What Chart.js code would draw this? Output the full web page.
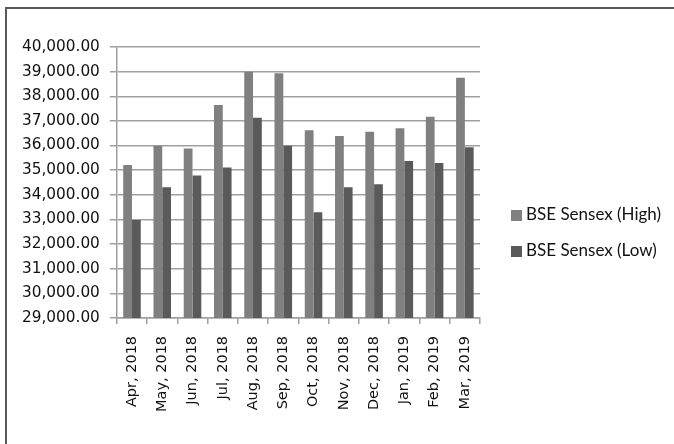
<!DOCTYPE html>
<html>
<head>
<meta charset="utf-8">
<script src="https://cdn.jsdelivr.net/npm/chart.js@4.4.1/dist/chart.umd.min.js"></script>
<style>
    html, body { margin: 0; padding: 0; background: #fff; }
    #wrap { position: relative; width: 674px; height: 444px; }
    #frame { position: absolute; left: 5px; top: 7px; right: 0; bottom: 0;
             border-top: 2px solid #5a5a5a; border-left: 2px solid #5a5a5a; pointer-events: none; }
    canvas { position: absolute; left: 0; top: 0; }
    .legend-item { position: absolute; left: 511px; height: 20px; line-height: 20px;
                   font-family: "Lato"; font-size: 17px; color: #111; white-space: nowrap; }
    .legend-item span { display: inline-block; width: 11px; height: 11px; margin-right: 4px; vertical-align: -1px; }
</style>
</head>
<body>
<div id="wrap">
    <canvas id="sensex-chart" width="674" height="444"></canvas>
    <div id="legend"></div>
    <div id="frame"></div>
</div>
<script>
const months = ["Apr, 2018", "May, 2018", "Jun, 2018", "Jul, 2018", "Aug, 2018", "Sep, 2018",
                "Oct, 2018", "Nov, 2018", "Dec, 2018", "Jan, 2019", "Feb, 2019", "Mar, 2019"];
const sensexHigh = [35213, 35994, 35877, 37645, 38990, 38934, 36617, 36389, 36555, 36701, 37172, 38749];
const sensexLow = [32973, 34303, 34785, 35107, 37129, 35986, 33292, 34303, 34426, 35376, 35287, 35927];
const seriesNames = ["BSE Sensex (High)", "BSE Sensex (Low)"];
const seriesColors = ["#808080", "#5a5a5a"];
const yMin = 29000;
const yMax = 40000;
const yStep = 1000;

function formatNumber(value) {
    return value.toLocaleString("en-US", { minimumFractionDigits: 2, maximumFractionDigits: 2 });
}

const gridColor = "#a0a0a0";

const ctx = document.getElementById("sensex-chart").getContext("2d");
const chart = new Chart(ctx, {
    type: "bar",
    data: {
        labels: months,
        datasets: [
            { label: seriesNames[0], data: sensexHigh, backgroundColor: seriesColors[0] },
            { label: seriesNames[1], data: sensexLow, backgroundColor: seriesColors[1] }
        ]
    },
    options: {
        responsive: false,
        animation: false,
        layout: { padding: { left: 12, top: 47, right: 194, bottom: 20 } },
        datasets: { bar: { categoryPercentage: 0.58, barPercentage: 1.0 } },
        plugins: {
            tooltip: { enabled: false },
            legend: { display: false }
        },
        scales: {
            x: {
                grid: { drawOnChartArea: false, drawTicks: true, tickLength: 6, color: gridColor, lineWidth: 1.5, offset: true },
                border: { color: gridColor, width: 1.5 },
                ticks: {
                    color: "#111",
                    font: { family: "DejaVu Sans", size: 14.5 },
                    minRotation: 90,
                    maxRotation: 90,
                    padding: 12,
                    autoSkip: false
                }
            },
            y: {
                min: yMin,
                max: yMax,
                grid: { color: gridColor, lineWidth: 1.5, tickLength: 7 },
                border: { color: gridColor, width: 1.5 },
                ticks: {
                    stepSize: yStep,
                    color: "#111",
                    font: { family: "DejaVu Sans", size: 15.3 },
                    padding: 10,
                    callback: (v) => formatNumber(v)
                }
            }
        }
    }
});

// legend built from the chart's own datasets
const legendEl = document.getElementById("legend");
chart.data.datasets.forEach((ds, i) => {
    const item = document.createElement("div");
    item.className = "legend-item";
    item.style.top = (204 + i * 36) + "px";
    item.innerHTML = '<span style="background:' + ds.backgroundColor + '"></span>' + ds.label;
    legendEl.appendChild(item);
});
</script>
</body>
</html>
